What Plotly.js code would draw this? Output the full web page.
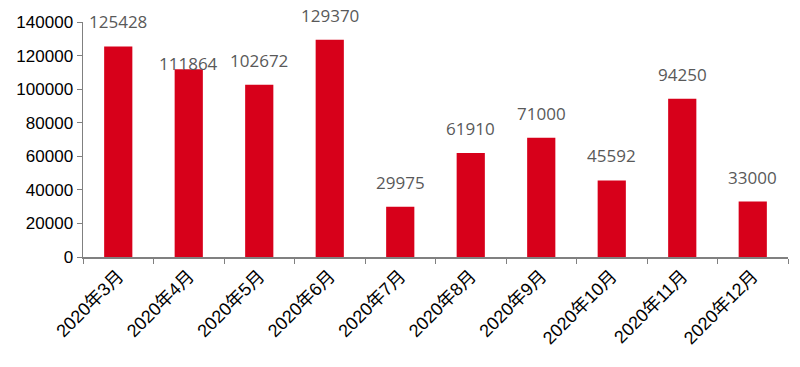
<!DOCTYPE html>
<html><head><meta charset="utf-8">
<script src="https://cdn.plot.ly/plotly-3.0.1.min.js"></script>
<style>html,body{margin:0;padding:0;background:#fff}#chart{width:800px;height:367px}</style>
</head><body><div id="chart"></div>
<script>
const categories = ["2020年3月","2020年4月","2020年5月","2020年6月","2020年7月","2020年8月","2020年9月","2020年10月","2020年11月","2020年12月"];
const values = [125428,111864,102672,129370,29975,61910,71000,45592,94250,33000];
const yTicks = [0,20000,40000,60000,80000,100000,120000,140000];

const trace = {
  type: 'bar', x: categories, y: values,
  marker: {color: '#D7001A'},
  hoverinfo: 'none'
};
const annotations = categories.map((c, i) => ({
  x: c, y: values[i], xref: 'x', yref: 'y',
  text: String(values[i]), showarrow: false,
  xanchor: 'center', yanchor: 'bottom',
  yshift: i === 1 ? -8 : 11,
  font: {family: 'Open Sans, sans-serif', size: 17, color: '#595959'}
}));
const layout = {
  width: 800, height: 367,
  margin: {l: 83, r: 12, t: 22, b: 110},
  paper_bgcolor: '#fff', plot_bgcolor: '#fff',
  bargap: 0.6, showlegend: false,
  annotations: annotations,
  font: {family: 'Liberation Sans, Arial, sans-serif', color: '#000'},
  xaxis: {
    type: 'category', tickangle: -45, ticks: 'outside', tickson: 'boundaries',
    ticklen: 5, tickcolor: '#808080', showline: true, linecolor: '#808080', linewidth: 1.5,
    tickfont: {family: 'Liberation Sans, Noto Sans CJK SC, sans-serif', size: 18, color: '#000'},
    showgrid: false, zeroline: false
  },
  yaxis: {
    range: [0, 140000], tickvals: yTicks, ticktext: yTicks.map(String),
    ticks: 'outside', ticklen: 5, tickcolor: '#808080', showline: true, linecolor: '#808080', linewidth: 1.5,
    tickfont: {family: 'Liberation Sans, Arial, sans-serif', size: 17, color: '#000'},
    showgrid: false, zeroline: false
  }
};
Plotly.newPlot('chart', [trace], layout, {displayModeBar: false, staticPlot: true});
</script></body></html>
